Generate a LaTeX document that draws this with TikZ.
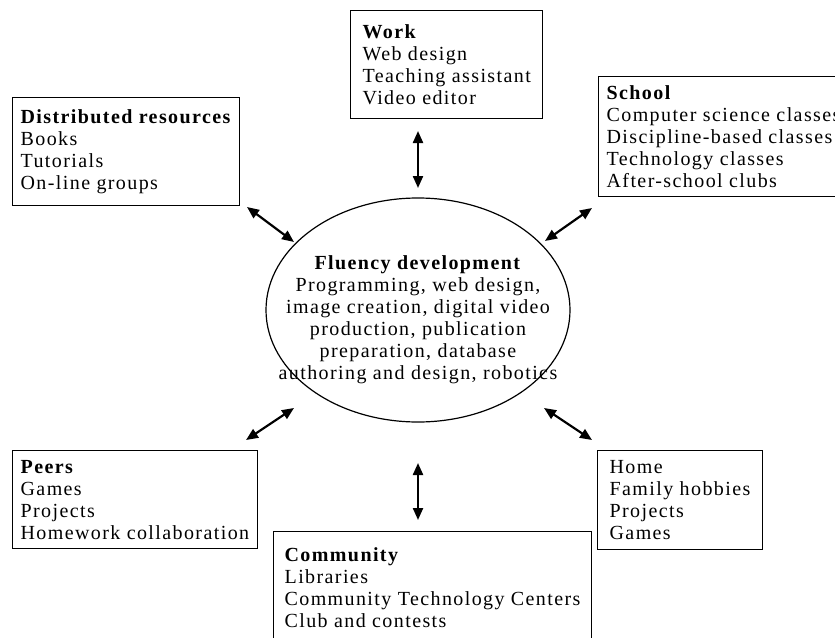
\documentclass[tikz,border=0pt]{standalone}
\usepackage{fontspec}
\setmainfont{Liberation Serif}[LetterSpace=7]
\usetikzlibrary{positioning,arrows.meta}

\tikzset{
  infobox/.style={draw, line width=1.3pt, anchor=north west, align=left,
    inner xsep=8pt, inner ysep=6pt, font=\fontsize{20}{22}\selectfont},
  link/.style={line width=2.2pt,
    {Triangle[length=12pt,width=10pt]}-{Triangle[length=12pt,width=10pt]}},
}

\begin{document}
\begin{tikzpicture}[x=1pt,y=-1pt]
  \useasboundingbox (0,0) rectangle (835,637);
  % the six settings round the centre
  \node[infobox, inner xsep=12pt, minimum height=108pt] (work) at (350,10)
    {\textbf{Work}\\Web design\\Teaching assistant\\Video editor};
  \node[infobox, minimum height=108pt] (dist) at (12,97)
    {\textbf{Distributed resources}\\Books\\Tutorials\\On-line groups};
  \node[infobox, minimum height=120pt] (school) at (598,76)
    {\textbf{School}\\Computer science classes\\Discipline-based classes\\Technology classes\\After-school clubs};
  \node[infobox, minimum height=98pt] (peers) at (12,450)
    {\textbf{Peers}\\Games\\Projects\\Homework collaboration};
  \node[infobox, inner xsep=12pt, minimum height=99pt] (home) at (597,450)
    {Home\\Family hobbies\\Projects\\Games};
  \node[infobox, inner xsep=11pt, minimum height=112pt] (community) at (273,531)
    {\textbf{Community}\\Libraries\\Community Technology Centers\\Club and contests};

  % centre
  \coordinate (hub) at (418,310);
  \draw[line width=1.2pt] (hub) ellipse [x radius=152pt, y radius=112pt];
  \node[align=center, font=\fontsize{20}{22}\selectfont] (fluency) at (418,320)
    {\textbf{Fluency development}\\Programming, web design,\\image creation, digital video\\production, publication\\preparation, database\\authoring and design, robotics};

  % arrow ends
  \coordinate (w1) at (418,131);  \coordinate (w2) at (418,188);
  \coordinate (d1) at (247,207);  \coordinate (d2) at (294,242);
  \coordinate (s1) at (592,208);  \coordinate (s2) at (545,241);
  \coordinate (p1) at (246,440);  \coordinate (p2) at (294,408);
  \coordinate (h1) at (592,440);  \coordinate (h2) at (544,408);
  \coordinate (c1) at (418,520);  \coordinate (c2) at (418,463);
  \foreach \a/\b in {w1/w2, d1/d2, s1/s2, p1/p2, h1/h2, c1/c2}
    \draw[link] (\a) -- (\b);
\end{tikzpicture}
\end{document}
